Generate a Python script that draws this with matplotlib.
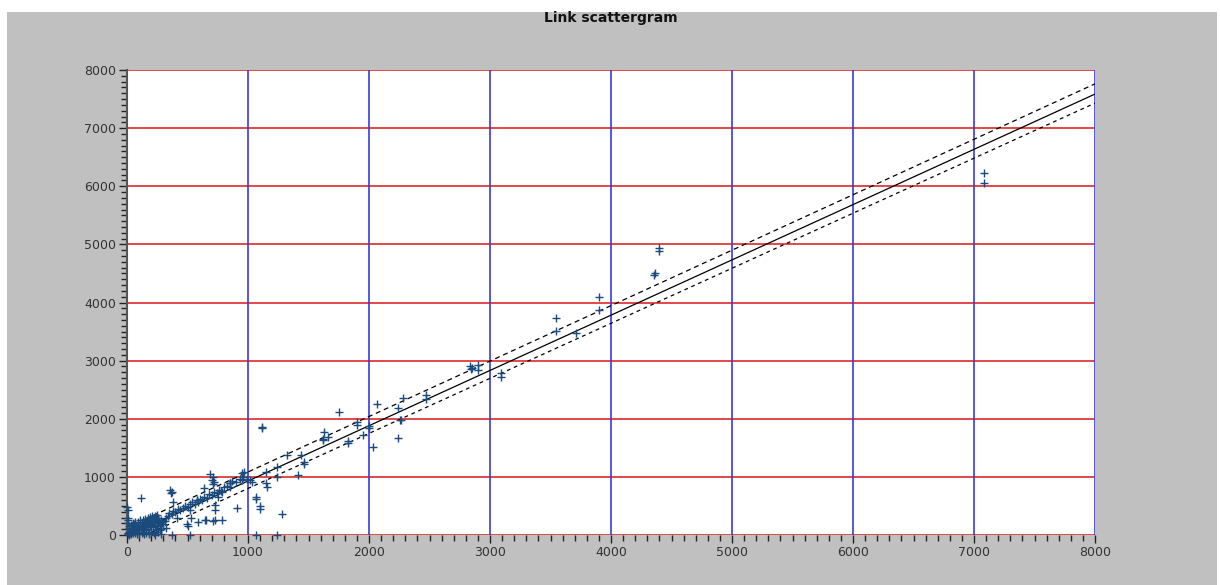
import matplotlib
matplotlib.use("Agg")
import matplotlib.pyplot as plt
from matplotlib.patches import Rectangle
from matplotlib.ticker import MultipleLocator
import numpy as np

title = "Link scattergram"

obs_x = [
    5, 10, 15, 20, 25, 30, 35, 40, 45, 50, 55, 60, 65, 70, 75, 80, 85, 90, 95, 100,
    105, 110, 115, 120, 125, 130, 135, 140, 145, 150, 155, 160, 165, 170, 175, 180,
    185, 190, 195, 200, 205, 210, 215, 220, 225, 230, 235, 240, 245, 250, 255, 260,
    265, 270, 275, 280, 285, 290, 300, 310, 320, 20, 30, 50, 70, 80, 100, 120, 140,
    160, 180, 200, 220, 240, 260, 280, 15, 40, 60, 90, 110, 130, 150, 170, 190, 210,
    230, 250, 8, 12, 5, 180, 230, 250, 270, 0, 10, 113, 355, 360, 369, 383,
    320, 340, 350, 370, 380, 400, 420, 440, 460, 480, 500, 520, 540, 560, 580, 600,
    620, 640, 660, 680, 700, 720, 740, 760, 780, 800, 830, 850, 870, 900, 930, 960,
    990, 686, 700, 719, 713, 713, 851, 851, 639, 579, 590, 521, 755, 783, 727, 727,
    906, 650, 713, 589, 493, 500, 520, 370, 411, 529, 645, 727, 783, 948, 1017,
    967, 948, 1030, 1149, 1149, 1160, 1242, 1242, 1063, 1063, 1099, 1099, 1278,
    1063, 1242, 1118, 1118, 1325, 1435, 1463, 1463, 1410, 1628, 1623, 1623, 1664,
    1755, 1824, 1830, 1898, 1898, 1953, 1997, 2000, 2036, 2066, 2242, 2262, 2240,
    2284, 2471, 2471, 2256, 2835, 2840, 2850, 2898, 2898, 3091, 3091, 3545, 3545,
    3708, 3898, 3898, 4358, 4365, 4399, 4399, 7085, 7085,
]
model_y = [
    10, 30, 5, 60, 40, 20, 80, 50, 100, 30, 70, 120, 90, 40, 140, 110, 60, 160, 130, 80,
    180, 150, 100, 200, 170, 120, 60, 210, 190, 140, 90, 230, 200, 160, 110, 250,
    220, 180, 130, 270, 240, 200, 150, 280, 250, 210, 170, 290, 260, 220, 180, 300,
    240, 200, 160, 250, 110, 220, 190, 240, 120, 150, 180, 200, 220, 20, 20, 30, 20,
    40, 30, 60, 40, 80, 50, 20, 120, 160, 190, 230, 250, 260, 280, 300, 310, 320,
    330, 340, 300, 250, 200, 10, 5, 100, 80, 487, 430, 631, 774, 720, 735, 573,
    300, 330, 380, 360, 420, 390, 440, 430, 470, 500, 480, 530, 560, 540, 600, 620,
    600, 650, 630, 700, 680, 740, 720, 780, 760, 820, 850, 900, 930, 920, 960, 1000,
    970, 1050, 940, 917, 998, 883, 890, 833, 803, 602, 560, 430, 660, 745, 516, 430,
    459, 258, 246, 229, 189, 160, 0, 0, 287, 287, 258, 258, 258, 1062, 947,
    1090, 947, 918, 1090, 890, 821, 1165, 1004, 654, 620, 499, 441, 361,
    0, 0, 1836, 1860, 1372, 1372, 1262, 1225, 1033, 1768, 1635, 1660, 1692,
    2112, 1618, 1590, 1950, 1893, 1721, 1847, 1870, 1520, 2249, 2181, 1979, 1664,
    2352, 2410, 2335, 1979, 2909, 2857, 2880, 2926, 2840, 2783, 2714, 3740, 3511,
    3482, 4102, 3873, 4475, 4500, 4888, 4930, 6236, 6058,
]

# regression line and band limits (slope, intercept)
fit_slope, fit_intercept = 0.951, -22
upper_slope, upper_intercept = 0.954, 130
lower_slope, lower_intercept = 0.947, -146
line_x_range = [150, 8000]

x_ticks = [0, 1000, 2000, 3000, 4000, 5000, 6000, 7000, 8000]
y_ticks = [0, 1000, 2000, 3000, 4000, 5000, 6000, 7000, 8000]

W, H = 1220, 585
fig = plt.figure(figsize=(W / 100, H / 100), dpi=100)
fig.patch.set_facecolor("white")
fig.patches.append(Rectangle((7 / W, 0), 1210 / W, 573 / H, transform=fig.transFigure,
                             facecolor="#c0c0c0", edgecolor="none", zorder=-10))

ax = fig.add_axes([127 / W, 1 - 535 / H, (1095 - 127) / W, (535 - 70) / H])
ax.set_facecolor("white")
ax.set_xlim(0, 8000)
ax.set_ylim(0, 8000)

for v in y_ticks:
    ax.axhline(v, color="#e02828", lw=1.2, zorder=1)
for v in x_ticks[1:]:
    ax.axvline(v, color="#3a3ae0", lw=1.2, zorder=1)

lx = np.array(line_x_range, dtype=float)
ax.plot(lx, fit_slope * lx + fit_intercept, color="black", lw=0.9, zorder=3)
ax.plot(lx, upper_slope * lx + upper_intercept, color="black", lw=0.9,
        linestyle=(0, (4, 3)), zorder=3)
ax.plot(lx, lower_slope * lx + lower_intercept, color="black", lw=0.9,
        linestyle=(0, (3, 3)), zorder=3)

ax.scatter(obs_x, model_y, marker="+", s=38, linewidths=1.0, color="#1b4b7c",
           zorder=4, clip_on=False)

ax.set_xticks(x_ticks)
ax.set_yticks(y_ticks)
ax.xaxis.set_minor_locator(MultipleLocator(100))
ax.yaxis.set_minor_locator(MultipleLocator(100))
ax.tick_params(which="major", direction="out", length=6, width=1, color="#222222",
               labelsize=9, labelcolor="#333333", pad=2)
ax.tick_params(which="minor", direction="out", length=4, width=1, color="#222222")
ax.tick_params(axis="x", top=False)
ax.tick_params(axis="y", right=False)

for s in ["top", "right", "bottom"]:
    ax.spines[s].set_visible(False)
ax.spines["left"].set_color("#555555")
ax.spines["left"].set_linewidth(1.5)

fig.text(611 / W, 1 - 18 / H, title, ha="center", va="center",
         fontsize=10, fontweight="bold", color="#111111")

fig.savefig("out.png", dpi=100)
